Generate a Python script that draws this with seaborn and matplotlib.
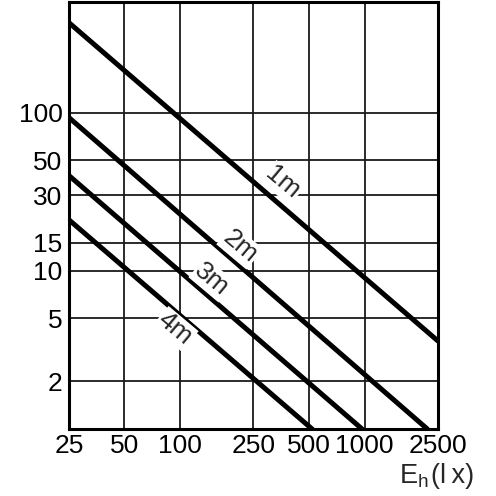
import pandas as pd
import seaborn as sns
import matplotlib.pyplot as plt
from matplotlib.ticker import FixedLocator, FixedFormatter, NullLocator

# values: each distance is a straight line on log-log axes
distances = ['1m', '2m', '3m', '4m']
x_start = [25, 25, 25, 25]
y_start = [370, 93, 40, 21]
x_end = [2500, 2190, 970, 520]
y_end = [3.6, 1, 1, 1]

x_ticks = [25, 50, 100, 250, 500, 1000, 2500]
y_ticks = [2, 5, 10, 15, 30, 50, 100]

# where the distance labels sit
label_x = [361, 211, 149, 94]
label_y = [36, 14.2, 8.8, 4.3]

sns.set_style('white')
plt.rcParams['font.family'] = ['Liberation Sans', 'DejaVu Sans']
plt.rcParams['mathtext.fontset'] = 'custom'
plt.rcParams['mathtext.rm'] = 'Liberation Sans'

# long format for seaborn
df = pd.DataFrame({
    'dist': distances + distances,
    'E': x_start + x_end,
    'val': y_start + y_end,
})

fig = plt.figure(figsize=(4.96, 4.96), dpi=100)
ax = fig.add_axes([0.139, 0.135, 0.744, 0.861])

sns.lineplot(data=df, x='E', y='val', hue='dist', palette=['black'] * 4,
             linewidth=3.6, legend=False, estimator=None, sort=False, ax=ax)

ax.set_xscale('log')
ax.set_yscale('log')
ax.set_xlim(25, 2500)
ax.set_ylim(1, 500)

ax.xaxis.set_major_locator(FixedLocator(x_ticks))
ax.xaxis.set_major_formatter(FixedFormatter([str(v) for v in x_ticks]))
ax.xaxis.set_minor_locator(NullLocator())
ax.yaxis.set_major_locator(FixedLocator(y_ticks))
ax.yaxis.set_major_formatter(FixedFormatter([str(v) for v in y_ticks]))
ax.yaxis.set_minor_locator(NullLocator())

ax.grid(True, color='#1a1a1a', linewidth=1.3)
ax.set_axisbelow(True)
ax.tick_params(axis='both', length=0, labelsize=19, colors='black')
ax.tick_params(axis='x', pad=3.5)
ax.tick_params(axis='y', pad=4.5)
ax.set_xlabel('')
ax.set_ylabel('')

for s in ax.spines.values():
    s.set_visible(True)
    s.set_color('black')
    s.set_linewidth(2.2)
    s.set_zorder(5)

# distance labels along the lines
for name, lx, ly in zip(distances, label_x, label_y):
    ax.text(lx, ly, name, fontsize=19, rotation=-40, rotation_mode='anchor',
            ha='center', va='center', zorder=3,
            bbox=dict(facecolor='white', edgecolor='none', pad=1))

# axis title in two pieces, spaced like the original
fig.text(429 / 496, 13 / 496, r'E$_{\mathrm{h}}$', fontsize=19.5,
         ha='right', va='baseline')
fig.text(474 / 496, 13 / 496, '(l\u2009x)', fontsize=19.5,
         ha='right', va='baseline')

plt.savefig('out.png', dpi=100)
